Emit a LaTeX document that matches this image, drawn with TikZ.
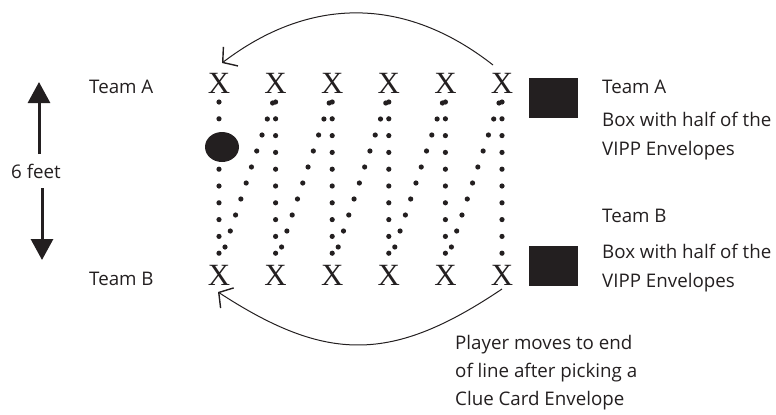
\documentclass[tikz,border=0pt]{standalone}
\usepackage{fontspec}
\setmainfont{Open Sans}
\newfontfamily\xfont{Liberation Serif}
\usetikzlibrary{arrows.meta,shapes.geometric}
\definecolor{ink}{HTML}{231F20}
\begin{document}
\begin{tikzpicture}[x=1bp,y=-1bp,
  lbl/.style={anchor=base west, inner sep=0, text=ink, font=\fontsize{18.8}{22}\selectfont},
  xmark/.style={anchor=base, inner sep=0, text=ink, font=\xfont\fontsize{31}{31}\selectfont},
  envbox/.style={fill=ink, draw=none, minimum width=49bp, minimum height=40bp, inner sep=0},
  move/.style={draw=ink, line width=1bp, -{Straight Barb[length=10bp,width=24bp,line width=1.4bp]}},
  span/.style={draw=ink, line width=3bp, -{Triangle[length=21bp,width=22bp]}}]
\useasboundingbox (0,0) rectangle (776,414);
% X marks
\foreach \i in {1,...,6} {
  \pgfmathsetmacro\xx{219+56.6*(\i-1)}
  \node[xmark] (xa\i) at (\xx,93) {X};
  \node[xmark] (xb\i) at (\xx,285) {X};
}
% vertical dot columns
\foreach \i in {1,...,6} {
  \pgfmathsetmacro\xx{219+56.6*(\i-1)}
  \foreach \k in {0,...,9} {
    \pgfmathsetmacro\yy{102+16.8*\k}
    \ifnum\i=1 \ifnum\k=2 \else\ifnum\k=3 \else \fill[ink] (\xx,\yy) circle[radius=2.6];\fi\fi
    \else \fill[ink] (\xx,\yy) circle[radius=2.6]; \fi
  }
}
% diagonal dot lines
\foreach \i in {1,...,5} {
  \pgfmathsetmacro\xs{219+56.6*(\i-1)+6}
  \pgfmathsetmacro\xe{219+56.6*\i-3}
  \foreach \t in {0,...,9} {
    \pgfmathsetmacro\px{\xs+(\xe-\xs)*\t/9}
    \pgfmathsetmacro\py{247+(103-247)*\t/9}
    \fill[ink] (\px,\py) circle[radius=2.6];
  }
}
% token
\node[fill=ink, ellipse, minimum width=34bp, minimum height=30bp, inner sep=0] (token) at (222,147) {};
% boxes
\node[envbox] (boxA) at (553.5,97.5) {};
\node[envbox] (boxB) at (553.5,265.5) {};
% arcs
\draw[move] ([shift={(-9,-28)}]xa6.base) .. controls (405,-4) and (310,-4) .. ([shift={(3,-30)}]xa1.base);
\draw[move] ([shift={(0,4)}]xb6.base) .. controls (392,363) and (327,363) .. ([shift={(-1,7)}]xb1.base);
% left labels
\node[lbl] (teamAl) at (89,93) {Team A};
\node[lbl] (teamBl) at (89,285) {Team B};
\node[lbl, anchor=base] (feet) at (36,178) {6 feet};
\coordinate (uptip) at (39,82);
\coordinate (upfoot) at (39,154);
\coordinate (dntip) at (42,260);
\coordinate (dnfoot) at (42,188);
\draw[span] (upfoot) -- (uptip);
\draw[span] (dnfoot) -- (dntip);
% right labels
\node[lbl] (ra1) at (602,93) {Team A};
\node[lbl] (ra2) at (602,126) {Box with half of the};
\node[lbl] (ra3) at (602,155) {VIPP Envelopes};
\node[lbl] (rb1) at (602,222) {Team B};
\node[lbl] (rb2) at (602,258) {Box with half of the};
\node[lbl] (rb3) at (602,287) {VIPP Envelopes};
% bottom note
\node[lbl] (n1) at (455,349) {Player moves to end};
\node[lbl] (n2) at (455,377) {of line after picking a};
\node[lbl] (n3) at (455,405) {Clue Card Envelope};
\end{tikzpicture}
\end{document}
